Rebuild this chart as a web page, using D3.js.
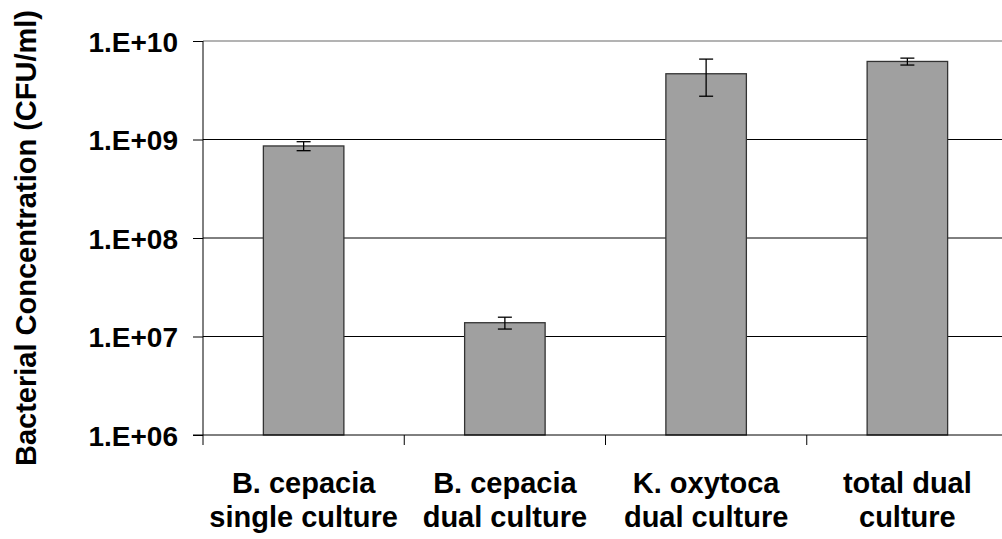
<!DOCTYPE html>
<html>
<head>
<meta charset="utf-8">
<script src="https://cdn.jsdelivr.net/npm/d3@7"></script>
<style>
  html, body { margin: 0; padding: 0; background: #fff; }
  svg { display: block; }
  text { font-family: "Liberation Sans", Arial, sans-serif; font-weight: bold; fill: #000; }
</style>
</head>
<body>
<svg id="chart" width="1002" height="539"></svg>
<script>
// Bacterial counts per culture condition (CFU/ml), mean and standard deviation
const categories = ["B. cepacia|single culture", "B. cepacia|dual culture", "K. oxytoca|dual culture", "total dual|culture"];
const means = [8.6e8, 1.38e7, 4.65e9, 6.2e9];
const errors = [0.9e8, 0.19e7, 1.9e9, 0.5e9];
const yTicks = [1e6, 1e7, 1e8, 1e9, 1e10];
const yTickLabels = ["1.E+06", "1.E+07", "1.E+08", "1.E+09", "1.E+10"];

const svg = d3.select("#chart");
const plotLeft = 203, plotRight = 1008, plotTop = 41, plotBottom = 435;

const x = d3.scaleBand()
  .domain(categories)
  .range([plotLeft, plotRight])
  .paddingInner(0.6)
  .paddingOuter(0.3);

const y = d3.scaleLog()
  .domain([1e6, 1e10])
  .range([plotBottom, plotTop]);

// horizontal gridlines
svg.append("g")
  .selectAll("line")
  .data(yTicks.slice(1))
  .join("line")
  .attr("x1", plotLeft).attr("x2", 1002)
  .attr("y1", d => y(d)).attr("y2", d => y(d))
  .attr("stroke", d => d === 1e10 ? "#9a9a9a" : "#000")
  .attr("stroke-width", d => d === 1e10 ? 1.5 : 1);

// bars
svg.append("g")
  .selectAll("rect")
  .data(categories)
  .join("rect")
  .attr("x", d => x(d))
  .attr("width", x.bandwidth())
  .attr("y", (d, i) => y(means[i]))
  .attr("height", (d, i) => plotBottom - y(means[i]))
  .attr("fill", "#a0a0a0")
  .attr("stroke", "#333")
  .attr("stroke-width", 1.3);

// error bars
const eb = svg.append("g").attr("stroke", "#000").attr("stroke-width", 1.3);
categories.forEach((c, i) => {
  const cx = x(c) + x.bandwidth() / 2;
  const hi = y(means[i] + errors[i]);
  const lo = y(means[i] - errors[i]);
  eb.append("line").attr("x1", cx).attr("x2", cx).attr("y1", hi).attr("y2", lo);
  eb.append("line").attr("x1", cx - 7).attr("x2", cx + 7).attr("y1", hi).attr("y2", hi);
  eb.append("line").attr("x1", cx - 7).attr("x2", cx + 7).attr("y1", lo).attr("y2", lo);
});

// y axis
const yAxis = svg.append("g")
  .attr("transform", `translate(${plotLeft},0)`)
  .call(d3.axisLeft(y).tickValues(yTicks).tickSize(10).tickPadding(15)
    .tickFormat((d, i) => yTickLabels[i]));
yAxis.select(".domain").remove();
yAxis.selectAll(".tick line").attr("stroke", "#000");
yAxis.selectAll(".tick text")
  .attr("font-size", 28)
  .attr("font-family", "Liberation Sans, Arial, sans-serif")
  .attr("font-weight", "bold")
  .attr("fill", "#000")
  .attr("dy", "0.36em");
svg.append("line")
  .attr("x1", plotLeft).attr("x2", plotLeft)
  .attr("y1", plotTop).attr("y2", plotBottom + 10)
  .attr("stroke", "#000");

// x axis line with boundary ticks between categories
svg.append("line")
  .attr("x1", plotLeft - 10).attr("x2", 1002)
  .attr("y1", plotBottom).attr("y2", plotBottom)
  .attr("stroke", "#000");
const step = x.step();
svg.append("g")
  .selectAll("line")
  .data(d3.range(1, categories.length + 1))
  .join("line")
  .attr("x1", i => plotLeft + i * step).attr("x2", i => plotLeft + i * step)
  .attr("y1", plotBottom).attr("y2", plotBottom + 10)
  .attr("stroke", "#000");

// category labels (two lines each)
const lab = svg.append("g");
categories.forEach(c => {
  const cx = x(c) + x.bandwidth() / 2;
  c.split("|").forEach((line, j) => {
    lab.append("text")
      .attr("x", cx)
      .attr("y", 493 + j * 34)
      .attr("text-anchor", "middle")
      .attr("font-size", 29)
      .text(line);
  });
});

// y axis title
svg.append("text")
  .attr("transform", `translate(36,238) rotate(-90)`)
  .attr("text-anchor", "middle")
  .attr("font-size", 29)
  .text("Bacterial Concentration (CFU/ml)");
</script>
</body>
</html>
